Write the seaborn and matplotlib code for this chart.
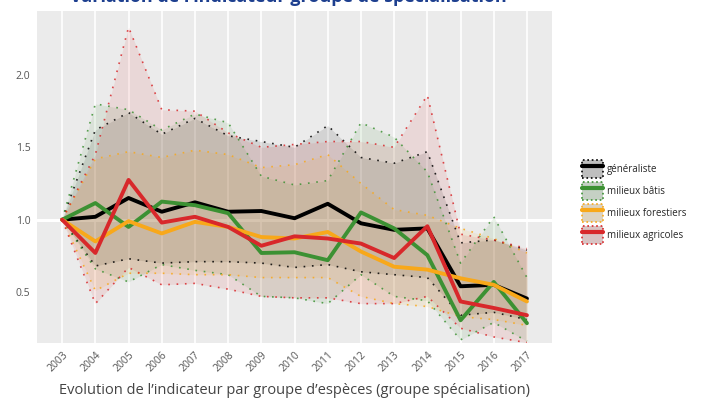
import numpy as np
import pandas as pd
import matplotlib
matplotlib.use("Agg")
import matplotlib.pyplot as plt
import seaborn as sns
from matplotlib.lines import Line2D
from matplotlib.patches import Patch
from matplotlib.legend_handler import HandlerTuple

# data
years = list(range(2003, 2018))
groups = ["généraliste", "milieux bâtis", "milieux forestiers", "milieux agricoles"]
colors = ["#000000", "#3c9133", "#f8a81a", "#d8282b"]

gen_mid = [1.0, 1.02, 1.15, 1.055, 1.12, 1.055, 1.06, 1.01, 1.11, 0.975, 0.93, 0.94, 0.54, 0.55, 0.455]
gen_low = [1.0, 0.68, 0.73, 0.70, 0.71, 0.71, 0.70, 0.67, 0.69, 0.64, 0.62, 0.60, 0.34, 0.36, 0.31]
gen_up = [1.0, 1.62, 1.74, 1.59, 1.70, 1.58, 1.54, 1.50, 1.65, 1.43, 1.39, 1.47, 0.84, 0.86, 0.79]

bat_mid = [1.0, 1.115, 0.95, 1.125, 1.10, 1.045, 0.77, 0.775, 0.72, 1.05, 0.94, 0.755, 0.305, 0.57, 0.285]
bat_low = [1.0, 0.66, 0.57, 0.69, 0.65, 0.62, 0.47, 0.46, 0.42, 0.62, 0.47, 0.44, 0.17, 0.29, 0.16]
bat_up = [1.0, 1.80, 1.76, 1.62, 1.73, 1.67, 1.30, 1.24, 1.27, 1.67, 1.57, 1.33, 0.70, 1.02, 0.60]

for_mid = [1.0, 0.85, 0.99, 0.905, 0.985, 0.95, 0.88, 0.87, 0.915, 0.78, 0.675, 0.655, 0.595, 0.55, 0.435]
for_low = [1.0, 0.51, 0.63, 0.63, 0.62, 0.62, 0.60, 0.60, 0.60, 0.47, 0.42, 0.40, 0.33, 0.31, 0.27]
for_up = [1.0, 1.42, 1.47, 1.43, 1.48, 1.45, 1.36, 1.38, 1.45, 1.25, 1.07, 1.03, 0.94, 0.87, 0.77]

agr_mid = [1.0, 0.77, 1.275, 0.98, 1.02, 0.95, 0.82, 0.885, 0.87, 0.835, 0.735, 0.955, 0.435, 0.39, 0.34]
agr_low = [1.0, 0.42, 0.67, 0.55, 0.56, 0.52, 0.47, 0.46, 0.46, 0.42, 0.42, 0.47, 0.25, 0.19, 0.15]
agr_up = [1.0, 1.45, 2.33, 1.76, 1.75, 1.60, 1.50, 1.52, 1.54, 1.54, 1.50, 1.86, 0.90, 0.86, 0.80]

mids = [gen_mid, bat_mid, for_mid, agr_mid]
lows = [gen_low, bat_low, for_low, agr_low]
ups = [gen_up, bat_up, for_up, agr_up]

df = pd.concat([pd.DataFrame({"annee": years, "groupe": g, "indice": m, "bas": lo, "haut": hi})
                for g, m, lo, hi in zip(groups, mids, lows, ups)], ignore_index=True)

sns.set_theme(style="darkgrid", rc={"axes.facecolor": "#ebebeb", "grid.color": "white"})
plt.rcParams["font.family"] = ["Open Sans", "DejaVu Sans"]

fig = plt.figure(figsize=(7.03, 4.0), dpi=100)
ax = fig.add_axes([0.053, 0.1425, 0.732, 0.83])

ax.grid(False)
for y in years:
    ax.axvline(y, color="white", lw=1.2, zorder=0)
ax.axhline(1.0, color="white", lw=2.2, zorder=0)

# ribbons with dotted borders
for g, c in zip(groups, colors):
    d = df[df.groupe == g]
    ax.fill_between(d.annee, d.bas, d.haut, color=c, alpha=0.1, lw=0, zorder=1)
    ax.plot(d.annee, d.bas, ls=(0, (1, 4)), color=c, lw=1.2, alpha=0.85, zorder=2)
    ax.plot(d.annee, d.haut, ls=(0, (1, 4)), color=c, lw=1.2, alpha=0.85, zorder=2)

sns.lineplot(data=df, x="annee", y="indice", hue="groupe", hue_order=groups,
             palette=colors, lw=2.8, legend=False, ax=ax, zorder=3)

ax.set_xlim(2002.25, 2017.75)
ax.set_ylim(0.148, 2.442)
ax.set_xticks(years)
ax.set_xticklabels([str(y) for y in years], rotation=45, ha="right", rotation_mode="anchor",
                   fontsize=7.5, color="#555555")
ax.set_yticks([0.5, 1.0, 1.5, 2.0])
ax.set_yticklabels(["0.5", "1.0", "1.5", "2.0"], fontsize=7.5, color="#555555")
ax.tick_params(axis="both", length=3, color="#555555", pad=2)
ax.set_xlabel("Evolution de l\u2019indicateur par groupe d\u2019espèces (groupe spécialisation)",
              fontsize=10.5, color="#444444", labelpad=6)
ax.set_ylabel("")
for s in ax.spines.values():
    s.set_visible(False)

fig.text(0.41, 0.994, "Variation de l\u2019indicateur groupe de spécialisation",
         ha="center", va="baseline", fontsize=13, fontweight="bold", color="#1d3f8f")

handles = [(Patch(facecolor="#d9d9d9", edgecolor="none"),
            Patch(facecolor=c, alpha=0.12, edgecolor="none"),
            Patch(facecolor="none", edgecolor=c, ls=":", lw=1.2),
            Line2D([], [], color=c, lw=3)) for c in colors]
leg = fig.legend(handles, groups, handler_map={tuple: HandlerTuple(ndivide=1)},
                 loc="center left", bbox_to_anchor=(0.815, 0.495), frameon=False,
                 fontsize=7, handlelength=2.2, handleheight=2.4, labelspacing=0.45,
                 handletextpad=0.4)

fig.savefig("out.png", dpi=100)
